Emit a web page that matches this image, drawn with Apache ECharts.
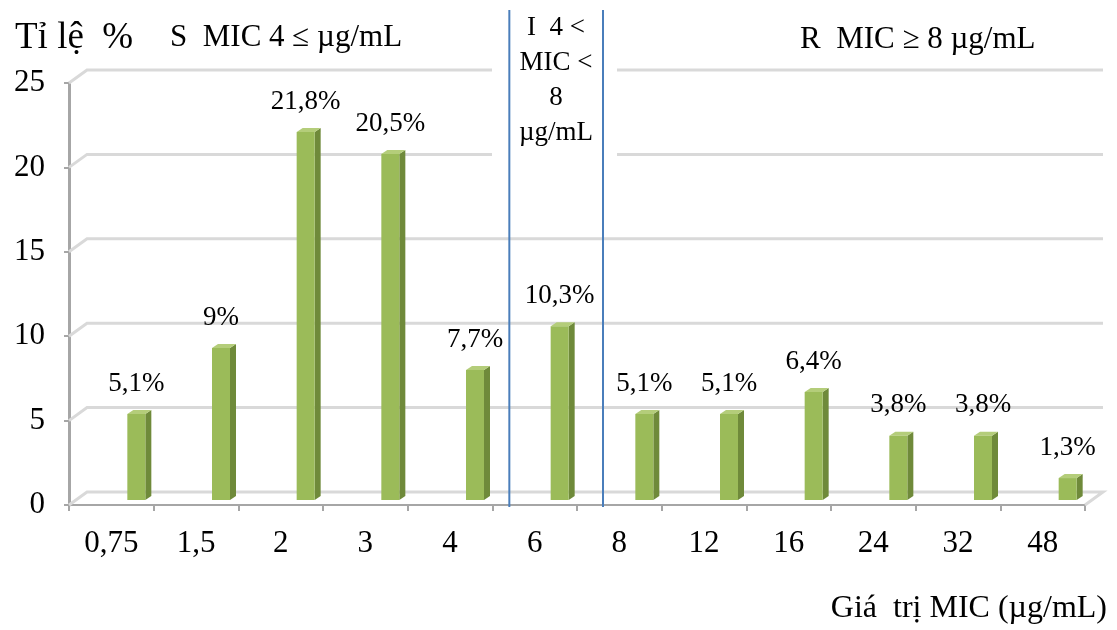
<!DOCTYPE html>
<html>
<head>
<meta charset="utf-8">
<script src="https://cdn.jsdelivr.net/npm/echarts@6/dist/echarts.min.js"></script>
<style>
html, body { margin: 0; padding: 0; background: #fff; }
#main { width: 1117px; height: 630px; }
</style>
</head>
<body>
<div id="main"></div>
<script>
const categories = ['0,75', '1,5', '2', '3', '4', '6', '8', '12', '16', '24', '32', '48']
const percents = [5.1, 9, 21.8, 20.5, 7.7, 10.3, 5.1, 5.1, 6.4, 3.8, 3.8, 1.3]
const yTicks = [0, 5, 10, 15, 20, 25]
// ranh giới S | I | R (đường xanh nằm sau các cột này)
const breakAfter = ['4', '6']

const serif = '"Liberation Serif", "Times New Roman", serif'
const fmt = (v) => String(v).replace('.', ',') + '%'

const chart = echarts.init(document.getElementById('main'))

// cột giả 3D kiểu Excel
function renderBar(params, api) {
  const i = api.value(0)
  const v = api.value(1)
  const top = api.coord([i, v])
  const base = api.coord([i, 0])
  const x = top[0] + 16
  const w = 18
  const dx = 6
  const dy = 4
  const yT = top[1] - 5
  const yB = base[1] - 5
  return {
    type: 'group',
    children: [
      {
        type: 'polygon',
        shape: { points: [[x + w, yT], [x + w + dx, yT - dy], [x + w + dx, yB - dy], [x + w, yB]] },
        style: { fill: '#6F8A3A' }
      },
      {
        type: 'polygon',
        shape: { points: [[x, yT], [x + dx, yT - dy], [x + w + dx, yT - dy], [x + w, yT]] },
        style: { fill: '#B4CD7A' }
      },
      {
        type: 'rect',
        shape: { x: x, y: yT, width: w, height: yB - yT },
        style: { fill: '#9BBB59' }
      },
      {
        type: 'text',
        style: {
          text: fmt(v),
          x: x + w / 2,
          y: yT - 17,
          align: 'center',
          verticalAlign: 'bottom',
          font: '27px ' + serif,
          fill: '#000'
        }
      }
    ]
  }
}

// lưới tường sau + đường chéo góc trái
function renderGrid(params, api) {
  const cs = params.coordSys
  const y = api.coord([0, api.value(1)])[1]
  const pts = [[cs.x - 18, y + 13], [cs.x, y], [cs.x + cs.width, y]]
  if (api.value(1) === 0) pts.push([cs.x + cs.width - 18, y + 13])
  return {
    type: 'polyline',
    shape: { points: pts },
    style: { stroke: '#D9D9D9', lineWidth: 3, fill: null }
  }
}

const lineShift = [17, 26]
function renderBreak(params, api) {
  const c = api.coord([api.value(0), 0])
  const bw = api.size([1, 0])[0]
  const x = c[0] + bw / 2 + lineShift[params.dataIndex]
  return {
    type: 'line',
    shape: { x1: x, y1: 10, x2: x, y2: 507 },
    style: { stroke: '#4A7EBB', lineWidth: 2 }
  }
}

const option = {
  animation: false,
  grid: [
    { left: 69, top: 83, width: 1016, height: 422 },
    { left: 87, top: 70, width: 1016, height: 422 }
  ],
  xAxis: [
    {
      type: 'category',
      gridIndex: 0,
      data: categories,
      axisLine: { lineStyle: { color: '#A6A6A6', width: 2 } },
      axisTick: { show: true, length: 6, interval: 0, lineStyle: { color: '#A6A6A6', width: 2 } },
      axisLabel: { color: '#000', fontFamily: serif, fontSize: 31, margin: 23, interval: 0 }
    },
    {
      type: 'category',
      gridIndex: 1,
      data: categories,
      show: false
    }
  ],
  yAxis: [
    {
      type: 'value',
      gridIndex: 0,
      min: 0,
      max: 25,
      interval: 5,
      axisLine: { show: true, lineStyle: { color: '#A6A6A6', width: 3 } },
      axisTick: { show: true, length: 5, lineStyle: { color: '#A6A6A6', width: 2 } },
      splitLine: { show: false },
      axisLabel: { color: '#000', fontFamily: serif, fontSize: 31, margin: 24 }
    },
    {
      type: 'value',
      gridIndex: 1,
      min: 0,
      max: 25,
      interval: 5,
      show: false,
      splitLine: { show: false }
    }
  ],
  series: [
    {
      type: 'custom',
      xAxisIndex: 1,
      yAxisIndex: 1,
      z: 1,
      renderItem: renderGrid,
      encode: { x: 0, y: 1 },
      data: yTicks.map((t) => [0, t])
    },
    {
      type: 'custom',
      xAxisIndex: 0,
      yAxisIndex: 0,
      z: 4,
      renderItem: renderBar,
      encode: { x: 0, y: 1 },
      data: percents.map((v, i) => [i, v])
    },
    {
      type: 'custom',
      xAxisIndex: 0,
      yAxisIndex: 0,
      z: 5,
      clip: false,
      renderItem: renderBreak,
      encode: { x: 0, y: 1 },
      data: breakAfter.map((c) => [categories.indexOf(c), 0])
    }
  ],
  graphic: [
    {
      type: 'rect',
      z: 3,
      shape: { x: 492, y: 0, width: 125, height: 160 },
      style: { fill: '#fff' }
    },
    {
      type: 'text',
      z: 6,
      style: { text: 'Tỉ lệ  %', x: 15, y: 38, verticalAlign: 'middle', font: '37px ' + serif, fill: '#000' }
    },
    {
      type: 'text',
      z: 6,
      style: { text: 'S  MIC 4 ≤ µg/mL', x: 170, y: 38, verticalAlign: 'middle', font: '31px ' + serif, fill: '#000' }
    },
    {
      type: 'text',
      z: 6,
      style: {
        text: 'I  4 <\nMIC <\n8\nµg/mL',
        x: 556,
        y: 10,
        align: 'center',
        verticalAlign: 'top',
        lineHeight: 35,
        font: '27px ' + serif,
        fill: '#000'
      }
    },
    {
      type: 'text',
      z: 6,
      style: { text: 'R  MIC ≥ 8 µg/mL', x: 800, y: 40, verticalAlign: 'middle', font: '31px ' + serif, fill: '#000' }
    },
    {
      type: 'text',
      z: 6,
      style: { text: 'Giá  trị MIC (µg/mL)', x: 1107, y: 609, align: 'right', verticalAlign: 'middle', font: '32px ' + serif, fill: '#000' }
    }
  ]
}

chart.setOption(option)
</script>
</body>
</html>
